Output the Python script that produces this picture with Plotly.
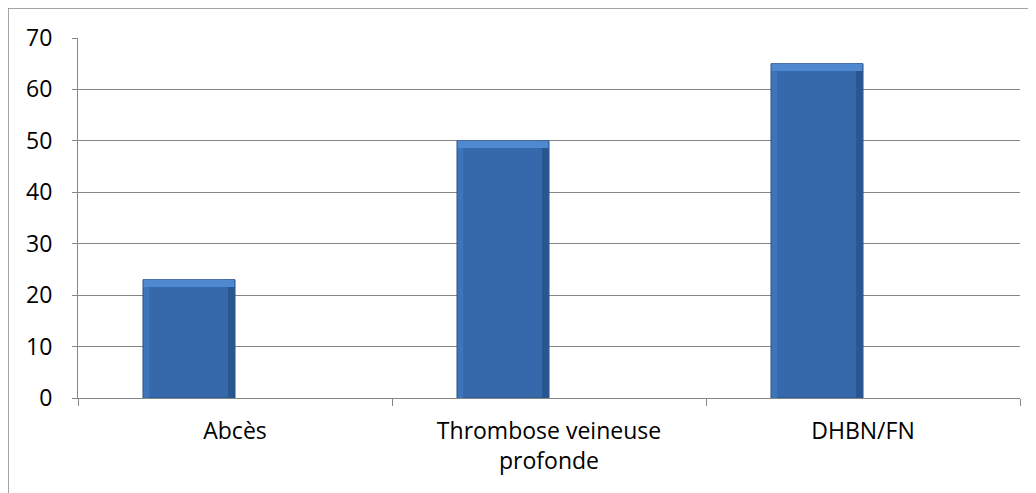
import plotly.graph_objects as go

categories = ["Abcès", "Thrombose veineuse<br>profonde", "DHBN/FN"]
values = [23, 50, 65]
y_ticks = [0, 10, 20, 30, 40, 50, 60, 70]

BAR_W = 0.293
FONT = "Open Sans"
EDGE = "#264d84"

fig = go.Figure()
# main bar body
fig.add_trace(go.Bar(
    x=categories, y=values,
    width=BAR_W, offset=-BAR_W,
    marker=dict(color="#3569ab", line=dict(color=EDGE, width=1)),
    showlegend=False, hoverinfo="x+y",
))
# left lighter bevel strip
fig.add_trace(go.Bar(
    x=categories, y=values,
    width=0.018, offset=-BAR_W + 0.002,
    marker=dict(color="#3d74ba", line=dict(width=0)),
    showlegend=False, hoverinfo="skip",
))
# right darker bevel strip
fig.add_trace(go.Bar(
    x=categories, y=values,
    width=0.02, offset=-0.022,
    marker=dict(color="#2a568f", line=dict(width=0)),
    showlegend=False, hoverinfo="skip",
))
# top bevel highlight
bevel = [1.4] * len(values)
fig.add_trace(go.Bar(
    x=categories, y=bevel, base=[v - b for v, b in zip(values, bevel)],
    width=BAR_W - 0.004, offset=-BAR_W + 0.002,
    marker=dict(color="#4f89cf", line=dict(width=0)),
    showlegend=False, hoverinfo="skip",
))

# page body has an 8px margin, so the figure is offset by 8px
fig.update_layout(
    width=1028, height=485,
    margin=dict(l=70, r=16, t=30, b=95),
    paper_bgcolor="white", plot_bgcolor="white",
    barmode="overlay",
    font=dict(family=FONT, size=23, color="#000000"),
    xaxis=dict(
        type="category", automargin=False,
        showline=True, linecolor="#868686", linewidth=1,
        ticks="outside", tickson="boundaries", ticklen=7, tickcolor="#868686",
        showgrid=False,
        ticklabelstandoff=12,
        tickfont=dict(family=FONT, size=23, color="#000000"),
    ),
    yaxis=dict(
        range=[0, 70], tickvals=y_ticks, automargin=False,
        showline=True, linecolor="#868686", linewidth=1,
        ticks="outside", ticklen=5, tickcolor="#868686",
        showgrid=True, gridcolor="#868686", gridwidth=1,
        zeroline=False,
        ticklabelstandoff=15,
        tickfont=dict(family=FONT, size=23, color="#000000"),
    ),
    shapes=[
        dict(type="rect", xref="paper", yref="paper",
             x0=-70 / 942, x1=1.1, y0=-0.4, y1=1 + 30 / 360,
             line=dict(color="#868686", width=1.5), fillcolor="rgba(0,0,0,0)",
             layer="below"),
    ],
)

fig.write_html("out.html")
